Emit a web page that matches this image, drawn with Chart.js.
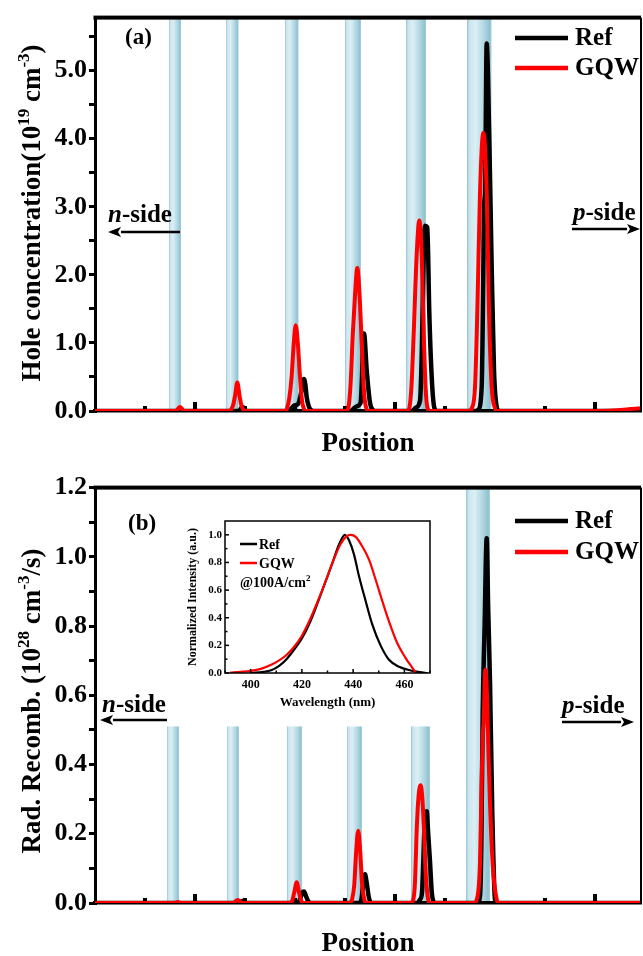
<!DOCTYPE html>
<html>
<head>
<meta charset="utf-8">
<script src="https://cdn.jsdelivr.net/npm/chart.js@4.4.1/dist/chart.umd.min.js"></script>
<style>
  html, body { margin: 0; padding: 0; background: #fff; }
  #wrap { position: relative; width: 643px; height: 956px; overflow: hidden; background: #fff; }
  #cA { position: absolute; left: 0; top: 0; }
  #cB { position: absolute; left: 0; top: 470px; }
  #cI { position: absolute; left: 180px; top: 505px; }
</style>
</head>
<body>
<div id="wrap">
  <canvas id="cA" width="643" height="465"></canvas>
  <canvas id="cB" width="643" height="486"></canvas>
  <canvas id="cI" width="260" height="215"></canvas>
</div>
<script>
// ================= DATA =================
// Panel (a): hole concentration (10^19 cm^-3) vs position (arbitrary units)
const refA_x = [50,
  121.5,122.6,123.5,124.3,125.2,126,
  146.5,148,149.5,151.5,153.3,154.5,155.2,155.85,157,158.3,159.5,
  178,179.5,181,182.8,183.5,184.1,184.5,185.85,187.5,188.85,190,
  208.5,210.5,212.5,213.35,214.15,215,216.15,217.15,218.35,219.65,221,
  240.5,241.65,243.35,244.15,244.5,245,245.85,247.15,248.35,249.5,250.85,252,
  323];
const refA_y = [0,
  0,0.02,0.06,0.05,0.01,0,
  0,0.03,0.08,0.1,0.3,0.47,0.38,0.2,0.06,0.01,0,
  0,0.04,0.07,0.12,0.5,1.1,1.14,0.6,0.12,0.02,0,
  0,0.05,0.15,0.8,2.0,2.72,2.7,1.45,0.5,0.05,0,
  0,0.02,0.36,2.0,3.0,3.2,5.4,4.0,2.1,0.6,0.06,0,
  0];
const gqwA_x = [50,
  90.5,91.2,92.5,93.8,94.6,
  117,118,119,120,121.15,122.3,123.3,124.5,125.5,
  145,146,147.2,148.3,149.4,150.35,151.4,152.5,153.5,154.5,155.5,
  175.5,176.6,177.8,178.85,180,181.15,182.3,183.35,184.6,185.8,187,
  206,207.2,208.3,209.3,210.85,212.15,213.35,214.4,215.3,216.2,217.5,
  237,238.35,240,241.15,242.5,244.15,245.85,247,248.35,250,251,
  301,323];
const gqwA_y = [0,
  0,0.02,0.06,0.02,0,
  0,0.02,0.08,0.22,0.42,0.22,0.07,0.01,0,
  0,0.04,0.2,0.5,1.0,1.26,1.0,0.5,0.15,0.03,0,
  0,0.04,0.4,1.1,1.7,2.1,1.7,1.0,0.25,0.03,0,
  0,0.05,0.4,1.1,2.3,2.8,2.3,1.1,0.35,0.05,0,
  0,0.04,0.35,1.45,3.2,4.09,3.2,1.45,0.35,0.04,0,
  0,0.04];
const bandStartA = [87, 115.5, 145, 175, 205.5, 236];
const bandEndA   = [93, 121.75, 151.75, 183, 215.5, 248.25];
const yTicksA = [0,0.5,1,1.5,2,2.5,3,3.5,4,4.5,5,5.5];

// Panel (b): radiative recombination (10^28 cm^-3/s) vs position
const refB_x = [50,
  121.5,123.8,126,
  151,152.5,153.6,154.5,155.5,156.6,158,
  182,183.2,184,185,185.8,186.8,188,
  211,212.5,213.5,214.15,214.9,215.85,216.6,217.5,218.4,219.15,220,
  241,242.5,243.15,243.85,244.8,245.85,246.6,247.5,248.65,250,251,
  323];
const refB_y = [0,
  0,0.006,0,
  0,0.01,0.03,0.033,0.02,0.005,0,
  0,0.01,0.05,0.083,0.06,0.02,0,
  0,0.01,0.03,0.12,0.24,0.265,0.2,0.12,0.03,0.005,0,
  0,0.02,0.16,0.55,0.8,1.054,0.85,0.64,0.26,0.01,0,
  0];
const gqwB_x = [50,
  90,91.5,93,
  119,121.35,123.5,
  147,148.5,149.6,150.85,152,153.2,154.5,
  177.5,178.5,179.6,180.6,181.6,182.6,183.6,184.7,185.5,
  208,209.15,210,210.85,211.8,212.85,213.7,214.5,215.4,216.3,217.15,
  239.5,240.85,242.5,243.35,243.85,244.3,245.15,246,246.65,247.5,248.85,250.85,252,
  323];
const gqwB_y = [0,
  0,0.003,0,
  0,0.009,0,
  0,0.005,0.03,0.06,0.03,0.005,0,
  0,0.01,0.05,0.15,0.209,0.15,0.05,0.01,0,
  0,0.01,0.06,0.21,0.31,0.34,0.3,0.21,0.08,0.02,0,
  0,0.01,0.115,0.355,0.48,0.52,0.674,0.6,0.45,0.29,0.11,0.01,0,
  0];
const bandStartB = [86, 116, 146, 176, 208, 235.5];
const bandEndB   = [92, 122, 153.5, 183.5, 217.5, 247.5];
const bandTopB   = [0.51, 0.51, 0.51, 0.51, 0.51, 1.2];
const yTicksB = [0,0.1,0.2,0.3,0.4,0.5,0.6,0.7,0.8,0.9,1.0,1.1,1.2];

// Shared position-axis tick marks (no labels)
const xTicks = [75,100,125,150,175,200,225,250,275,300];
const xMajorTicks = [100,200,300];

// Inset: normalized EL spectra @100 A/cm^2
const refSpec_x = [400,405,408,411,414,417,420,423,426,429,432,434.5,436.8,438.4,440.3,442.3,444.9,447.5,450.7,454,457.9,462.5,466,469];
const refSpec_y = [0,0.008,0.02,0.05,0.1,0.17,0.25,0.36,0.5,0.65,0.8,0.93,1.0,0.96,0.86,0.7,0.52,0.35,0.2,0.096,0.045,0.018,0.006,0];
const gqwSpec_x = [392,396,400,404,408,411,414,417,420,423,426,429,432,435,437.5,439,441,443.6,446.2,448.8,451.4,454,457.2,460.5,463,464.5];
const gqwSpec_y = [0.003,0.008,0.015,0.03,0.06,0.09,0.13,0.19,0.27,0.38,0.51,0.65,0.8,0.93,0.99,1.0,0.985,0.915,0.82,0.675,0.52,0.373,0.217,0.108,0.04,0];
const specXTicks = [400,420,440,460];
const specXMinor = [390,400,410,420,430,440,450,460,470];
const specYTicks = [0,0.2,0.4,0.6,0.8,1.0];
const specYMinor = [0,0.1,0.2,0.3,0.4,0.5,0.6,0.7,0.8,0.9,1.0];

// ================= HELPERS =================
const FAM = '"Liberation Serif","Times New Roman",serif';
const zip = (xs, ys) => xs.map((x, i) => ({ x: x, y: ys[i] }));
const font = (size, italic) => (italic ? 'italic ' : '') + 'bold ' + size + 'px ' + FAM;

function drawRich(ctx, parts, cx, cy, size, rotate, align) {
  ctx.save();
  ctx.translate(cx, cy);
  if (rotate) ctx.rotate(-Math.PI / 2);
  let w = 0;
  const ws = parts.map(p => {
    ctx.font = font(p.sup ? Math.round(size * 0.62) : size, p.it);
    const m = ctx.measureText(p.t).width;
    w += m;
    return m;
  });
  let x = align === 'left' ? 0 : -w / 2;
  ctx.fillStyle = '#000';
  ctx.textBaseline = 'alphabetic';
  ctx.textAlign = 'left';
  parts.forEach((p, i) => {
    ctx.font = font(p.sup ? Math.round(size * 0.62) : size, p.it);
    ctx.fillText(p.t, x, p.sup ? -size * 0.4 : 0);
    x += ws[i];
  });
  ctx.restore();
}

function arrow(ctx, x0, x1, y, dir) {
  ctx.save();
  ctx.strokeStyle = '#000';
  ctx.fillStyle = '#000';
  ctx.lineWidth = 2.5;
  const tip = dir < 0 ? x0 : x1;
  const base = tip - dir * 13;
  ctx.beginPath();
  ctx.moveTo(dir < 0 ? base : x0, y);
  ctx.lineTo(dir < 0 ? x1 : base, y);
  ctx.stroke();
  ctx.beginPath();
  ctx.moveTo(tip, y);
  ctx.lineTo(base, y - 5);
  ctx.lineTo(base + dir * 3, y);
  ctx.lineTo(base, y + 5);
  ctx.closePath();
  ctx.fill();
  ctx.restore();
}

function bandFill(ctx, x0, x1) {
  const g = ctx.createLinearGradient(x0, 0, x1, 0);
  g.addColorStop(0, '#93c3d1');
  g.addColorStop(0.1, '#cbe5ed');
  g.addColorStop(0.35, '#dbeff4');
  g.addColorStop(0.7, '#b0d6e1');
  g.addColorStop(0.92, '#90c3d1');
  g.addColorStop(1, '#a8d0dc');
  return g;
}

function panelDeco(cfg) {
  return {
    id: 'panelDeco',
    beforeDatasetsDraw(chart) {
      const { ctx, chartArea: ca, scales: { x, y } } = chart;
      ctx.save();
      ctx.beginPath();
      ctx.rect(ca.left, ca.top, ca.right - ca.left, ca.bottom - ca.top);
      ctx.clip();
      cfg.bandStart.forEach((s, i) => {
        const x0 = x.getPixelForValue(s);
        const x1 = x.getPixelForValue(cfg.bandEnd[i]);
        const yt = cfg.bandTop ? y.getPixelForValue(cfg.bandTop[i]) : ca.top;
        ctx.fillStyle = bandFill(ctx, x0, x1);
        ctx.fillRect(x0, yt, x1 - x0, ca.bottom - 2 - yt);
      });
      ctx.fillStyle = '#000';
      xTicks.forEach(v => {
        const px = x.getPixelForValue(v);
        const len = xMajorTicks.includes(v) ? 9 : 5;
        ctx.fillRect(px - 2, ca.bottom - len, 4, len);
      });
      ctx.restore();
    },
    afterDraw(chart) {
      const { ctx, chartArea: ca } = chart;
      ctx.save();
      ctx.fillStyle = '#000';
      ctx.fillRect(ca.left - 1.5, ca.top - 2, ca.right - ca.left + 1.5, 4);
      ctx.fillRect(ca.right - 1, ca.top, 2, ca.bottom - ca.top);
      // legend
      chart.data.datasets.forEach((ds, i) => {
        const ly = cfg.legend.y[i];
        ctx.strokeStyle = ds.borderColor;
        ctx.lineWidth = 4.5;
        ctx.beginPath();
        ctx.moveTo(cfg.legend.x0, ly);
        ctx.lineTo(cfg.legend.x1, ly);
        ctx.stroke();
        ctx.fillStyle = '#000';
        ctx.font = font(25);
        ctx.textBaseline = 'middle';
        ctx.textAlign = 'left';
        ctx.fillText(ds.label, cfg.legend.tx, ly + 1);
      });
      // panel label
      ctx.font = font(23);
      ctx.textBaseline = 'alphabetic';
      ctx.fillText(cfg.panel.t, cfg.panel.x, cfg.panel.y);
      // side labels and arrows
      drawRich(ctx, [{ t: 'n', it: true }, { t: '-side' }], cfg.nside.tx, cfg.nside.ty, 25, false, 'left');
      arrow(ctx, cfg.nside.ax0, cfg.nside.ax1, cfg.nside.ay, -1);
      drawRich(ctx, [{ t: 'p', it: true }, { t: '-side' }], cfg.pside.tx, cfg.pside.ty, 25, false, 'left');
      arrow(ctx, cfg.pside.ax0, cfg.pside.ax1, cfg.pside.ay, 1);
      // axis titles
      drawRich(ctx, cfg.yTitle, cfg.yTitleX, cfg.yTitleY, 27, true);
      drawRich(ctx, [{ t: 'Position' }], (ca.left + ca.right) / 2, cfg.xTitleY, 27, false);
      ctx.restore();
    }
  };
}

function panelOptions(yMax, yTicks, labelFn, xAxisH, padTop) {
  return {
    responsive: false,
    animation: false,
    layout: { padding: { left: 0, top: padTop, right: 2, bottom: 0 } },
    elements: {
      point: { radius: 0 },
      line: { cubicInterpolationMode: 'monotone', borderJoinStyle: 'round', borderCapStyle: 'round' }
    },
    plugins: { legend: { display: false }, tooltip: { enabled: false } },
    scales: {
      x: {
        type: 'linear', min: 50, max: 323,
        ticks: { display: false },
        grid: { display: false, drawTicks: false },
        border: { display: true, width: 3.5, color: '#000' },
        afterFit(s) { s.height = xAxisH; }
      },
      y: {
        type: 'linear', min: 0, max: yMax,
        afterBuildTicks(s) { s.ticks = yTicks.map(v => ({ value: v })); },
        ticks: {
          callback: labelFn, color: '#000', padding: 2, autoSkip: false,
          font: { family: FAM, size: 26, weight: 'bold' }
        },
        grid: { drawOnChartArea: false, drawTicks: true, tickLength: 6, lineWidth: 3, color: '#000' },
        border: { display: true, width: 3, color: '#000' },
        afterFit(s) { s.width = 95; }
      }
    }
  };
}

// ================= PANEL (a) =================
new Chart(document.getElementById('cA'), {
  type: 'line',
  data: {
    datasets: [
      { label: 'Ref', data: zip(refA_x, refA_y), borderColor: '#000000', borderWidth: 4.5, order: 1 },
      { label: 'GQW', data: zip(gqwA_x, gqwA_y), borderColor: '#ff0000', borderWidth: 4, order: 0 }
    ]
  },
  options: panelOptions(5.78, yTicksA,
    v => (Math.abs(v - Math.round(v)) < 1e-6 ? v.toFixed(1) : ''), 465 - 411, 8),
  plugins: [panelDeco({
    bandStart: bandStartA, bandEnd: bandEndA, bandTop: null,
    legend: { x0: 515, x1: 568, tx: 575, y: [38, 68] },
    panel: { t: '(a)', x: 125, y: 44 },
    nside: { tx: 108, ty: 222, ax0: 108, ax1: 180, ay: 232 },
    pside: { tx: 573, ty: 220, ax0: 572, ax1: 640, ay: 229 },
    yTitle: [{ t: 'Hole concentration(10' }, { t: '19', sup: true }, { t: ' cm' }, { t: '-3', sup: true }, { t: ')' }],
    yTitleX: 40, yTitleY: 213, xTitleY: 451
  })]
});

// ================= PANEL (b) =================
new Chart(document.getElementById('cB'), {
  type: 'line',
  data: {
    datasets: [
      { label: 'Ref', data: zip(refB_x, refB_y), borderColor: '#000000', borderWidth: 4.5, order: 1 },
      { label: 'GQW', data: zip(gqwB_x, gqwB_y), borderColor: '#ff0000', borderWidth: 4, order: 0 }
    ]
  },
  options: panelOptions(1.2, yTicksB,
    v => (Math.round(v * 10) % 2 === 0 ? v.toFixed(1) : ''), 486 - 433, 17),
  plugins: [panelDeco({
    bandStart: bandStartB, bandEnd: bandEndB, bandTop: bandTopB,
    legend: { x0: 515, x1: 568, tx: 575, y: [51, 82] },
    panel: { t: '(b)', x: 128, y: 60 },
    nside: { tx: 102, ty: 242, ax0: 100, ax1: 167, ay: 250 },
    pside: { tx: 562, ty: 243, ax0: 562, ax1: 634, ay: 252 },
    yTitle: [{ t: 'Rad. Recomb. (10' }, { t: '28', sup: true }, { t: ' cm' }, { t: '-3', sup: true }, { t: '/s)' }],
    yTitleX: 40, yTitleY: 231, xTitleY: 481
  })]
});

// ================= INSET =================
const insetDeco = {
  id: 'insetDeco',
  beforeDraw(chart) {
    const ctx = chart.ctx;
    ctx.save();
    ctx.fillStyle = '#fff';
    ctx.fillRect(0, 0, chart.width, chart.height);
    ctx.restore();
  },
  afterDraw(chart) {
    const { ctx, chartArea: ca, scales: { x, y } } = chart;
    ctx.save();
    ctx.strokeStyle = '#000';
    ctx.lineWidth = 1.5;
    ctx.strokeRect(ca.left, ca.top, ca.right - ca.left, ca.bottom - ca.top);
    ctx.fillStyle = '#000';
    specXMinor.forEach(v => {
      const px = x.getPixelForValue(v);
      const len = specXTicks.includes(v) ? 4 : 2.5;
      ctx.fillRect(px - 0.75, ca.bottom - len, 1.5, len);
    });
    specYMinor.forEach(v => {
      const py = y.getPixelForValue(v);
      const major = Math.round(v * 10) % 2 === 0;
      const len = major ? 4 : 2.5;
      ctx.fillRect(ca.left, py - 0.75, len, 1.5);
    });
    // legend
    const ly = [39, 58];
    chart.data.datasets.forEach((ds, i) => {
      ctx.strokeStyle = ds.borderColor;
      ctx.lineWidth = 2.5;
      ctx.beginPath();
      ctx.moveTo(60, ly[i]);
      ctx.lineTo(77, ly[i]);
      ctx.stroke();
      ctx.fillStyle = '#000';
      ctx.font = font(14);
      ctx.textBaseline = 'middle';
      ctx.textAlign = 'left';
      ctx.fillText(ds.label, 79, ly[i] + 1);
    });
    drawRich(ctx, [{ t: '@100A/cm' }, { t: '2', sup: true }], 60, 82, 14, false, 'left');
    drawRich(ctx, [{ t: 'Normalized Intensity (a.u.)' }], 16, (ca.top + ca.bottom) / 2, 12, true);
    drawRich(ctx, [{ t: 'Wavelength (nm)' }], (ca.left + ca.right) / 2, 201, 13, false);
    ctx.restore();
  }
};

new Chart(document.getElementById('cI'), {
  type: 'line',
  data: {
    datasets: [
      { label: 'Ref', data: zip(refSpec_x, refSpec_y), borderColor: '#000000', borderWidth: 2.2, order: 1 },
      { label: 'GQW', data: zip(gqwSpec_x, gqwSpec_y), borderColor: '#ff0000', borderWidth: 2.2, order: 0 }
    ]
  },
  options: {
    responsive: false,
    animation: false,
    layout: { padding: { left: 0, top: 16, right: 10, bottom: 0 } },
    elements: { point: { radius: 0 }, line: { cubicInterpolationMode: 'monotone' } },
    plugins: { legend: { display: false }, tooltip: { enabled: false } },
    scales: {
      x: {
        type: 'linear', min: 390, max: 470,
        afterBuildTicks(s) { s.ticks = specXTicks.map(v => ({ value: v })); },
        ticks: { color: '#000', padding: 5, autoSkip: false, maxRotation: 0, font: { family: FAM, size: 12, weight: 'bold' } },
        grid: { display: false, drawTicks: false },
        border: { display: false },
        afterFit(s) { s.height = 215 - 168; }
      },
      y: {
        type: 'linear', min: 0, max: 1.1,
        afterBuildTicks(s) { s.ticks = specYTicks.map(v => ({ value: v })); },
        ticks: { color: '#000', padding: 3, autoSkip: false, callback: v => v.toFixed(1), font: { family: FAM, size: 11, weight: 'bold' } },
        grid: { display: false, drawTicks: false },
        border: { display: false },
        afterFit(s) { s.width = 45; }
      }
    }
  },
  plugins: [insetDeco]
});
</script>
</body>
</html>
